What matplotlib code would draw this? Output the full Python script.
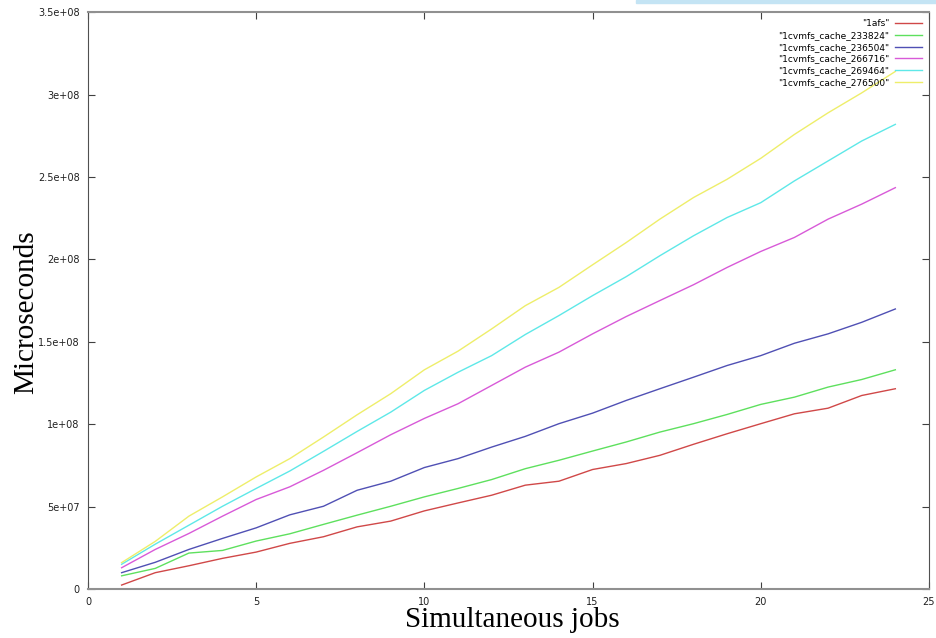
import matplotlib.pyplot as plt
import matplotlib.patches as patches

# number of simultaneous jobs
jobs = list(range(1, 25))

afs = [2.4e6, 9.9e6, 14.1e6, 18.6e6, 22.4e6, 27.7e6, 31.7e6, 37.7e6, 41.2e6, 47.4e6,
       52.2e6, 56.9e6, 63.0e6, 65.4e6, 72.5e6, 76.1e6, 81.1e6, 87.8e6, 94.2e6, 100.3e6,
       106.3e6, 109.7e6, 117.4e6, 121.5e6]
cache_233824 = [8.0e6, 12.5e6, 21.8e6, 23.4e6, 29.1e6, 33.5e6, 39.2e6, 44.8e6, 50.2e6, 55.9e6,
                61.0e6, 66.4e6, 73.0e6, 78.1e6, 83.7e6, 89.2e6, 95.2e6, 100.3e6, 105.9e6, 112.0e6,
                116.4e6, 122.5e6, 127.1e6, 133.0e6]
cache_236504 = [9.9e6, 16.2e6, 24.0e6, 30.7e6, 37.1e6, 45.0e6, 50.2e6, 59.9e6, 65.4e6, 73.7e6,
                79.1e6, 86.1e6, 92.6e6, 100.3e6, 106.7e6, 114.4e6, 121.5e6, 128.5e6, 135.6e6, 141.6e6,
                149.1e6, 154.8e6, 161.8e6, 169.9e6]
cache_266716 = [12.9e6, 24.0e6, 33.7e6, 44.2e6, 54.3e6, 62.0e6, 72.0e6, 82.7e6, 93.6e6, 103.5e6,
                112.4e6, 123.5e6, 134.6e6, 143.7e6, 154.8e6, 165.3e6, 175.0e6, 184.6e6, 195.1e6, 204.8e6,
                213.3e6, 224.4e6, 233.5e6, 243.5e6]
cache_269464 = [15.0e6, 27.2e6, 38.7e6, 50.2e6, 61.0e6, 71.6e6, 83.5e6, 95.6e6, 107.3e6, 120.5e6,
                131.5e6, 141.6e6, 154.4e6, 165.9e6, 178.0e6, 189.5e6, 202.2e6, 214.3e6, 225.4e6, 234.4e6,
                247.6e6, 259.7e6, 271.8e6, 281.9e6]
cache_276500 = [16.0e6, 28.9e6, 44.2e6, 55.9e6, 68.0e6, 79.1e6, 92.2e6, 105.7e6, 118.5e6, 133.0e6,
                144.3e6, 157.8e6, 171.9e6, 183.0e6, 196.7e6, 210.2e6, 224.4e6, 237.5e6, 248.6e6, 261.3e6,
                275.8e6, 288.9e6, 301.0e6, 314.0e6]

series = [
    ('"1afs"', afs, "#d04848"),
    ('"1cvmfs_cache_233824"', cache_233824, "#5ee05e"),
    ('"1cvmfs_cache_236504"', cache_236504, "#5050b4"),
    ('"1cvmfs_cache_266716"', cache_266716, "#d85ad8"),
    ('"1cvmfs_cache_269464"', cache_269464, "#5ee8e8"),
    ('"1cvmfs_cache_276500"', cache_276500, "#eeee6a"),
]

fig = plt.figure(figsize=(9.36, 6.38), dpi=100)
ax = fig.add_axes([0.094, 0.0768, 0.8985, 0.9042])

# light blue strip at the top of the screenshot
fig.patches.append(patches.Rectangle((0.68, 0.995), 0.32, 0.005, transform=fig.transFigure,
                                     color="#c4e4f4", zorder=0))

for label, values, color in series:
    ax.plot(jobs, values, color=color, linewidth=1.0, label=label)

ax.set_xlim(0, 25)
ax.set_ylim(0, 3.5e8)
ax.set_xticks([0, 5, 10, 15, 20, 25])
ax.set_yticks([0, 5e7, 1e8, 1.5e8, 2e8, 2.5e8, 3e8, 3.5e8])
ax.set_yticklabels(["0", "5e+07", "1e+08", "1.5e+08", "2e+08", "2.5e+08", "3e+08", "3.5e+08"])
ax.tick_params(direction="in", top=True, right=True, length=5, width=0.8,
               color="#404040", labelsize=7, labelcolor="#202020", pad=6)
for side in ["left", "right"]:
    ax.spines[side].set_color("#505050")
for side in ["top", "bottom"]:
    ax.spines[side].set_color("#909090")
    ax.spines[side].set_linewidth(1.5)

ax.set_xlabel("Simultaneous jobs", fontsize=21, family="Liberation Serif")
ax.set_ylabel("Microseconds", fontsize=21, family="Liberation Serif")
ax.yaxis.set_label_coords(-0.058, 0.48)
ax.xaxis.set_label_coords(0.505, -0.031)
ax.xaxis.label.set_va("top")

ax.legend(loc="upper right", frameon=False, markerfirst=False, fontsize=6.5,
          handlelength=3.0, labelspacing=0.3, borderaxespad=0.4, handletextpad=0.6)

plt.savefig("out.png")
